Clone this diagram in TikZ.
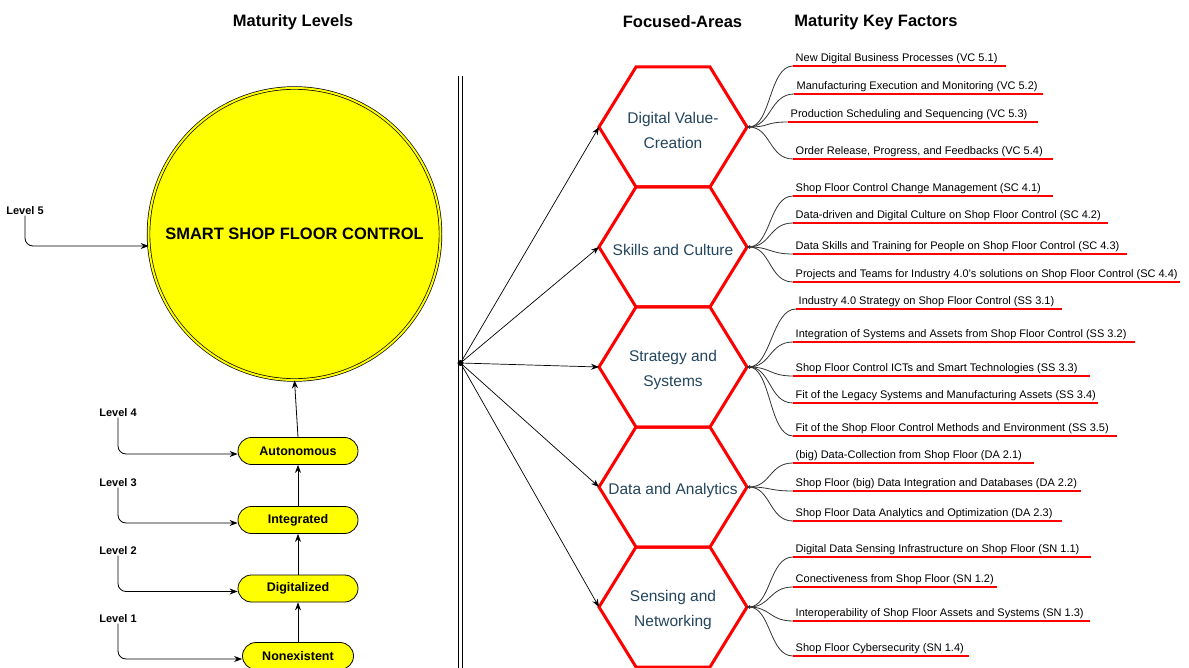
\documentclass[tikz,border=0pt]{standalone}
\usepackage{fontspec}
\setmainfont{Liberation Sans}
\usetikzlibrary{arrows.meta}
\definecolor{hexred}{RGB}{255,0,0}
\definecolor{hextxt}{RGB}{35,68,93}
\definecolor{yel}{RGB}{255,255,0}
\tikzset{
  ttl/.style={font=\fontsize{16.5}{20}\selectfont\bfseries},
  lvl/.style={font=\fontsize{11}{13}\selectfont\bfseries, inner sep=1pt},
  pill/.style={draw, line width=0.8pt, fill=yel, rounded corners=13.5pt, minimum width=120pt, minimum height=27pt, font=\fontsize{12.5}{15}\selectfont\bfseries},
  arr/.style={line width=0.8pt, -{Stealth[length=8pt,width=6pt]}},
  elbow/.style={arr, rounded corners=8pt},
  hexline/.style={draw=hexred, line width=3pt, line join=miter},
  hextext/.style={text=hextxt, align=center, font=\fontsize{15.5}{25}\selectfont},
  kf/.style={anchor=south west, inner xsep=2.5pt, inner ysep=2.4pt, font=\fontsize{11}{13}\selectfont},
  uline/.style={draw=hexred, line width=1.6pt},
  conn/.style={draw=black!80, line width=0.8pt, -{Stealth[length=3pt,width=3pt]}},
  fan/.style={line width=0.7pt, -{Stealth[length=8pt,width=6pt]}},
  sep/.style={line width=0.9pt}
}
\newcommand{\hexa}[3]{%
  \node[hextext] (#1) at (673,#2.5) [yshift=-2.5pt] {#3};
  \coordinate (#1w) at (599,#2);
  \coordinate (#1e) at (747,#2);
  \draw[hexline] (#1w) -- ++(37,-60) -- ++(74,0) -- ++(37,60) -- ++(-37,60) -- ++(-74,0) -- cycle;
}
\newcommand{\kfac}[6]{%
  \node[kf] (#1) at (#3,#4) {#6};
  \draw[uline] (#1.south west) -- (#5,#4);
  \draw[conn] (#1.south west) .. controls +(-24,0) and +(24,0) .. (#2e);
}
\begin{document}
\begin{tikzpicture}[x=1pt,y=-1pt]
\useasboundingbox (0,0) rectangle (1189,668);
% titles
\node[ttl] (t1) at (293,22) {Maturity Levels};
\node[ttl] (t2) at (682.5,22) {Focused-Areas};
\node[ttl] (t3) at (876,22) {Maturity Key Factors};
% big circle
\node[circle, draw=black, line width=0.7pt, double=yel, double distance=2pt, fill=yel, minimum size=292pt, inner sep=0pt, font=\fontsize{16.5}{20}\selectfont\bfseries] (circ) at (294.5,234) {SMART SHOP FLOOR CONTROL};
% pills
\node[pill] (auto) at (298,451) {Autonomous};
\node[pill] (integ) at (298,520) {Integrated};
\node[pill] (digi) at (298,588.5) {Digitalized};
\node[pill, minimum width=111pt] (nonex) at (298,656) {Nonexistent};
\draw[arr] (nonex.north) -- (digi.south);
\draw[arr] (digi.north) -- (integ.south);
\draw[arr] (integ.north) -- (auto.south);
\draw[arr] (auto.north) -- (circ.south);
% level labels
\node[lvl] (l5) at (25,210.5) {Level 5};
\node[lvl] (l4) at (118,412.5) {Level 4};
\node[lvl] (l3) at (118,482.5) {Level 3};
\node[lvl] (l2) at (118,550.5) {Level 2};
\node[lvl] (l1) at (118,618.5) {Level 1};
\draw[elbow] (l5.south) |- ([yshift=-12pt,xshift=0.5pt]circ.west);
\draw[elbow] (l4.south) |- ([yshift=-3pt]auto.west);
\draw[elbow] (l3.south) |- ([yshift=-3pt]integ.west);
\draw[elbow] (l2.south) |- ([yshift=-3pt]digi.west);
\draw[elbow] (l1.south) |- ([yshift=-3pt]nonex.west);
% separator (double line)
\coordinate (vt1) at (458.5,76);
\coordinate (vb1) at (458.5,670);
\coordinate (vt2) at (462.5,76);
\coordinate (vb2) at (462.5,670);
\draw[sep] (vt1) -- (vb1);
\draw[sep] (vt2) -- (vb2);
\node[circle, fill=black, inner sep=0pt, minimum size=6pt] (dot) at (460.5,363) {};
% hexagons
\hexa{h1}{127}{Digital Value-\\Creation}
\hexa{h2}{247}{Skills and Culture}
\hexa{h3}{367}{Strategy and\\Systems}
\hexa{h4}{487}{Data and Analytics}
\hexa{h5}{607}{Sensing and\\Networking}
\foreach \h in {h1,h2,h3,h4,h5} \draw[fan] (dot.center) -- (\h w);
% key factors
\kfac{k51}{h1}{793}{66}{1006}{New Digital Business Processes (VC 5.1)}
\kfac{k52}{h1}{794}{94}{1043}{Manufacturing Execution and Monitoring (VC 5.2)}
\kfac{k53}{h1}{788}{122}{1038}{Production Scheduling and Sequencing (VC 5.3)}
\kfac{k54}{h1}{793}{159}{1053}{Order Release, Progress, and Feedbacks (VC 5.4)}
\kfac{k41}{h2}{793}{196}{1053}{Shop Floor Control Change Management (SC 4.1)}
\kfac{k42}{h2}{793}{223}{1108}{Data-driven and Digital Culture on Shop Floor Control (SC 4.2)}
\kfac{k43}{h2}{793}{254}{1127}{Data Skills and Training for People on Shop Floor Control (SC 4.3)}
\kfac{k44}{h2}{793}{282}{1180}{Projects and Teams for Industry 4.0's solutions on Shop Floor Control (SC 4.4)}
\kfac{k31}{h3}{796}{309}{1062}{Industry 4.0 Strategy on Shop Floor Control (SS 3.1)}
\kfac{k32}{h3}{793}{342}{1135}{Integration of Systems and Assets from Shop Floor Control (SS 3.2)}
\kfac{k33}{h3}{793}{376}{1090}{Shop Floor Control ICTs and Smart Technologies (SS 3.3)}
\kfac{k34}{h3}{793}{403}{1098}{Fit of the Legacy Systems and Manufacturing Assets (SS 3.4)}
\kfac{k35}{h3}{793}{436}{1117}{Fit of the Shop Floor Control Methods and Environment (SS 3.5)}
\kfac{k21}{h4}{793}{463}{1034}{(big) Data-Collection from Shop Floor (DA 2.1)}
\kfac{k22}{h4}{793}{491}{1081}{Shop Floor (big) Data Integration and Databases (DA 2.2)}
\kfac{k23}{h4}{793}{521}{1062}{Shop Floor Data Analytics and Optimization (DA 2.3)}
\kfac{k11}{h5}{793}{557}{1091}{Digital Data Sensing Infrastructure on Shop Floor (SN 1.1)}
\kfac{k12}{h5}{793}{587}{997}{Conectiveness from Shop Floor (SN 1.2)}
\kfac{k13}{h5}{793}{621}{1090}{Interoperability of Shop Floor Assets and Systems (SN 1.3)}
\kfac{k14}{h5}{793}{656}{969}{Shop Floor Cybersecurity (SN 1.4)}
\end{tikzpicture}
\end{document}
